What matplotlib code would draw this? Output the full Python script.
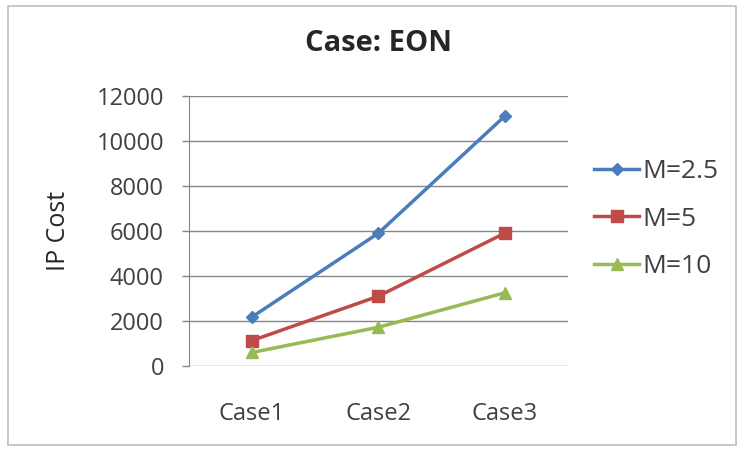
import matplotlib.pyplot as plt
from matplotlib.patches import Rectangle

cases = ["Case1", "Case2", "Case3"]
series_labels = ["M=2.5", "M=5", "M=10"]
m25 = [2180, 5900, 11100]
m5 = [1130, 3100, 5900]
m10 = [600, 1720, 3250]
y_ticks = [0, 2000, 4000, 6000, 8000, 10000, 12000]

colors = ["#4A7EBB", "#BE4B48", "#98B954"]
markers = ["D", "s", "^"]
marker_sizes = [6, 8, 8]


def main():
    plt.rcParams["font.family"] = ["Open Sans", "DejaVu Sans"]
    fig = plt.figure(figsize=(7.44, 4.49), dpi=100)
    ax = fig.add_axes([0.254, 0.185, 0.509, 0.601])

    # chart frame
    fig.patches.append(Rectangle((0.011, 0.01), 0.978, 0.977, transform=fig.transFigure,
                                 fill=False, edgecolor="#BFBFBF", linewidth=1.2))

    x = range(len(cases))
    for values, label, color, marker, ms in zip([m25, m5, m10], series_labels,
                                                colors, markers, marker_sizes):
        ax.plot(x, values, color=color, linewidth=2.5, marker=marker,
                markersize=ms, label=label)

    ax.set_xlim(-0.5, 2.5)
    ax.set_ylim(0, 12000)
    ax.set_yticks(y_ticks)
    ax.set_xticks(list(x))
    ax.set_xticklabels(cases)
    ax.tick_params(axis="x", length=0, pad=26, labelsize=17, colors="#404040")
    ax.tick_params(axis="y", length=5, width=1, color="#868686", labelsize=17,
                   labelcolor="#404040", pad=13)
    ax.grid(axis="y", color="#868686", linewidth=1)
    ax.set_axisbelow(True)
    for side in ["top", "right", "bottom"]:
        ax.spines[side].set_visible(False)
    ax.spines["left"].set_color("#868686")

    ax.set_ylabel("IP Cost", fontsize=18, color="#262626", labelpad=18)
    fig.text(0.509, 0.904, "Case: EON", ha="center", va="center",
             fontsize=21, fontweight="bold", color="#262626")

    fig.legend(loc="center left", bbox_to_anchor=(0.799, 0.512), frameon=False,
               fontsize=19, handlelength=1.7, handletextpad=0.1,
               labelspacing=0.85, borderpad=0, borderaxespad=0,
               labelcolor="#404040")

    fig.savefig("out.png", dpi=100)


if __name__ == "__main__":
    main()
